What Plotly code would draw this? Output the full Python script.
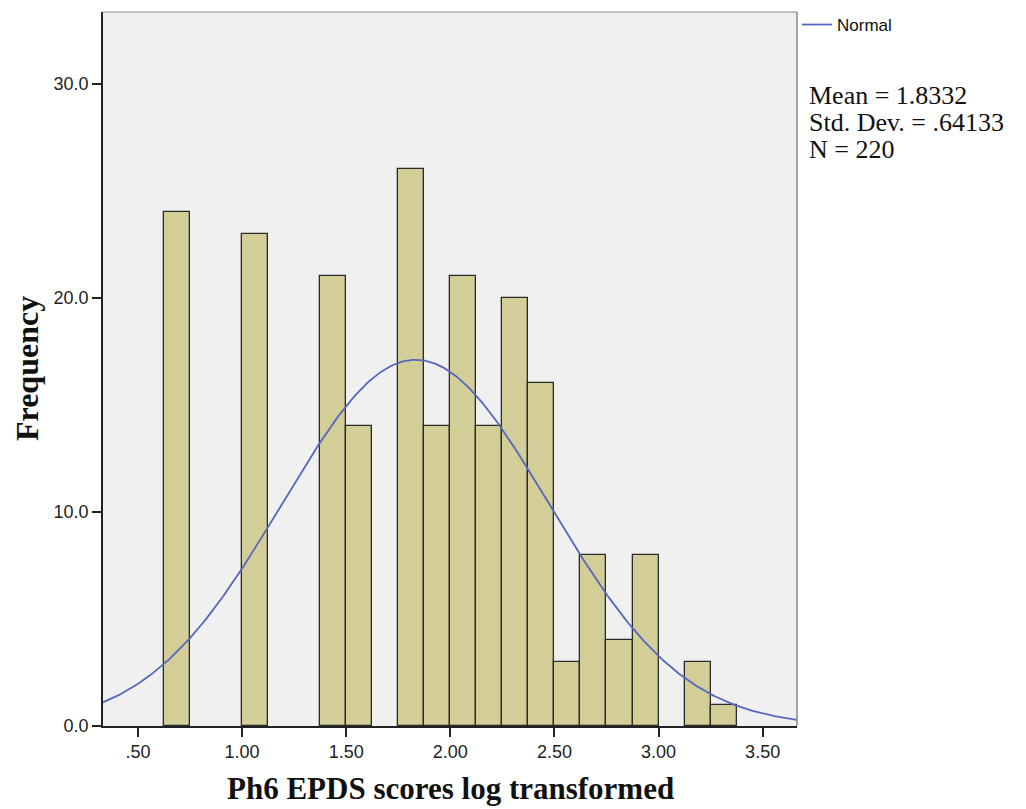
import numpy as np
import plotly.graph_objects as go

# Histogram data (bin lower edges and counts)
bin_start = 0.625
bin_width = 0.125
counts = [24, 0, 0, 23, 0, 0, 21, 14, 0, 26, 14, 21, 14, 20, 16, 3, 8, 4, 8, 0, 3, 1]

# Summary statistics shown on the chart
mean_val = 1.8332
sd_val = 0.64133
n_val = 220
stats_lines = ["Mean = 1.8332", "Std. Dev. = .64133", "N = 220"]

x_tickvals = [0.5, 1.0, 1.5, 2.0, 2.5, 3.0, 3.5]
x_ticktext = [".50", "1.00", "1.50", "2.00", "2.50", "3.00", "3.50"]
y_tickvals = [0, 10, 20, 30]
y_ticktext = ["0.0", "10.0", "20.0", "30.0"]

x_range = [0.332, 3.665]
y_range = [0, 33.35]

centers = [bin_start + bin_width * (i + 0.5) for i in range(len(counts))]
xs = [c for c, v in zip(centers, counts) if v > 0]
ys = [v for v in counts if v > 0]

xc = np.linspace(x_range[0], x_range[1], 400)
yc = n_val * bin_width / (sd_val * np.sqrt(2 * np.pi)) * np.exp(-0.5 * ((xc - mean_val) / sd_val) ** 2)

SERIF = "Liberation Serif, Times New Roman, serif"
SANS = "Liberation Sans, Arial, sans-serif"

fig = go.Figure()
fig.add_trace(go.Bar(
    x=xs, y=ys, width=bin_width,
    marker=dict(color="#d3ce97", line=dict(color="#2a2a2a", width=1.3)),
    showlegend=False, hoverinfo="x+y",
))
fig.add_trace(go.Scatter(
    x=xc, y=yc, mode="lines", name="Normal",
    line=dict(color="#5668bd", width=1.8),
))

fig.update_layout(
    width=1026, height=809,
    margin=dict(l=103, r=229, t=12, b=83, autoexpand=False),
    paper_bgcolor="white", plot_bgcolor="#f0f0f0",
    bargap=0,
    font=dict(family=SANS, size=18, color="#222"),
    legend=dict(x=1.0, y=1.007, xanchor="left", yanchor="top", xref="paper", yref="paper",
                bgcolor="rgba(0,0,0,0)", font=dict(size=17, family=SANS, color="#111"),
                itemwidth=30, tracegroupgap=0),
    xaxis=dict(
        range=x_range, tickvals=x_tickvals, ticktext=x_ticktext,
        showgrid=False, zeroline=False, showline=True, linecolor="#222", linewidth=1.6,
        ticks="outside", ticklen=9, tickwidth=1.6, tickcolor="#222",
        tickfont=dict(size=18, family=SANS),
    ),
    yaxis=dict(
        range=y_range, tickvals=y_tickvals, ticktext=y_ticktext,
        showgrid=False, zeroline=False, showline=True, linecolor="#222", linewidth=1.6,
        ticks="outside", ticklen=9, tickwidth=1.6, tickcolor="#222",
        tickfont=dict(size=18, family=SANS),
    ),
)

# light frame on top and right
fig.add_shape(type="line", xref="paper", yref="paper", x0=0, x1=1, y0=1, y1=1,
              line=dict(color="#888", width=1))
fig.add_shape(type="line", xref="paper", yref="paper", x0=1, x1=1, y0=0, y1=1,
              line=dict(color="#888", width=1.5))

# axis titles
fig.add_annotation(xref="paper", yref="paper", x=0.5, y=0, yshift=-62,
                   xanchor="center", yanchor="middle", showarrow=False,
                   text="<b>Ph6 EPDS scores log transformed</b>",
                   font=dict(family=SERIF, size=31, color="#111"))
fig.add_annotation(xref="paper", yref="paper", x=0, y=0.5, xshift=-76,
                   xanchor="center", yanchor="middle", showarrow=False, textangle=-90,
                   text="<b>Frequency</b>",
                   font=dict(family=SERIF, size=32, color="#111"))

# statistics text, one line each
plot_top_px = 12
plot_h_px = 809 - 12 - 83
for i, line in enumerate(stats_lines):
    ypx = 95 + i * 27.5
    fig.add_annotation(
        xref="paper", yref="paper", x=1, xshift=10,
        y=1 - (ypx - plot_top_px) / plot_h_px,
        xanchor="left", yanchor="middle", showarrow=False, align="left",
        text=line, font=dict(family=SERIF, size=26, color="#111"),
    )

fig.write_html("out.html")
